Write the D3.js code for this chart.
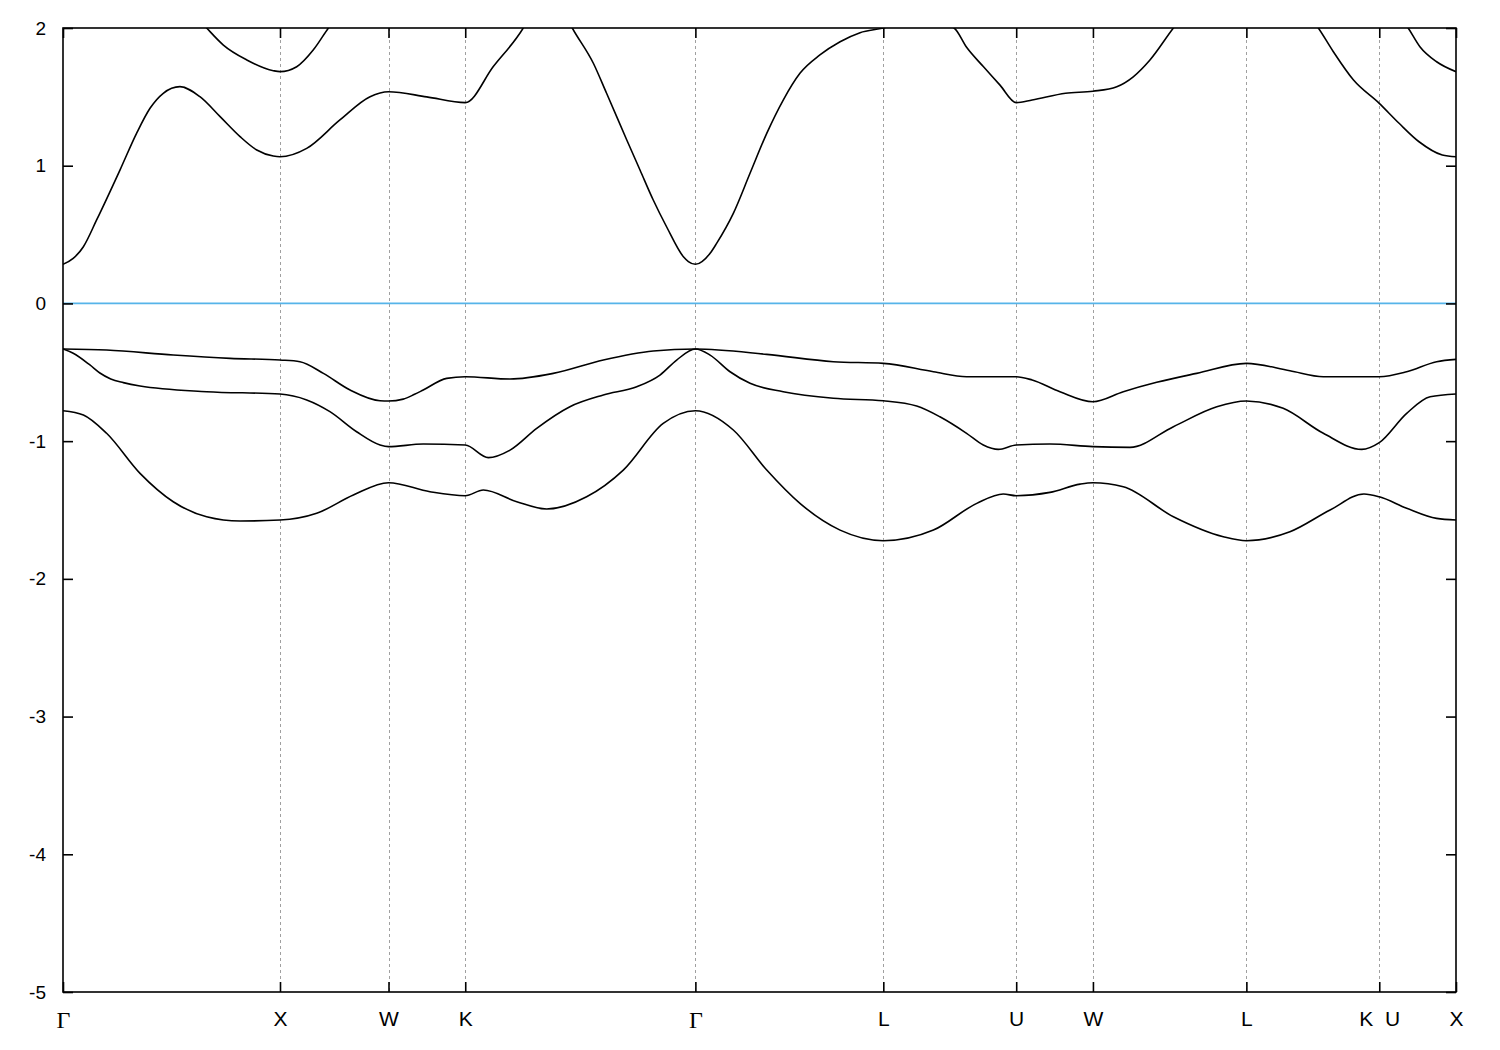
<!DOCTYPE html>
<html>
<head>
<meta charset="utf-8">
<script src="https://cdn.jsdelivr.net/npm/d3@7"></script>
<style>
  html, body { margin: 0; padding: 0; background: #fff; }
  svg { display: block; }
</style>
</head>
<body>
<svg id="chart" width="1500" height="1050"></svg>
<script>
// High-symmetry points along the k-path (cumulative path length)
const kPos = [0, 1, 1.5, 1.8536, 2.9142, 3.7802, 4.3926, 4.7462, 5.4533, 6.0657, 6.4193];
const kLabels = ["Γ", "X", "W", "K", "Γ", "L", "U", "W", "L", "K U", "X"];
const yTicks = [-5, -4, -3, -2, -1, 0, 1, 2];

// Bands: [k, E]
const conduction1 = [
  [0, 0.284], [0.047, 0.327], [0.094, 0.412], [0.155, 0.606], [0.263, 0.970], [0.339, 1.235],
  [0.401, 1.417], [0.462, 1.526], [0.539, 1.574], [0.631, 1.501],
  [0.724, 1.356], [0.816, 1.211], [0.893, 1.114], [0.969, 1.070], [1.0, 1.065], [1.123, 1.126], [1.276, 1.332],
  [1.415, 1.501], [1.5, 1.537], [1.676, 1.500], [1.8536, 1.458], [1.983, 1.72],
  [2.121, 2.0], [2.236, 2.35], [2.347, 2.0], [2.444, 1.744], [2.505, 1.526],
  [2.598, 1.187], [2.659, 0.969], [2.720, 0.751], [2.782, 0.555], [2.859, 0.339],
  [2.882, 0.304], [2.9142, 0.284], [2.982, 0.364], [3.012, 0.436], [3.089, 0.654], [3.166, 0.945], [3.243, 1.235],
  [3.319, 1.477], [3.396, 1.671], [3.488, 1.804], [3.581, 1.900], [3.673, 1.966],
  [3.7802, 2.0], [3.94, 2.08], [4.106, 2.0], [4.164, 1.860], [4.241, 1.720],
  [4.318, 1.585], [4.3926, 1.458], [4.466, 1.477], [4.620, 1.526], [4.7462, 1.541],
  [4.856, 1.574], [4.932, 1.646], [5.009, 1.768], [5.117, 2.0], [5.25, 2.25],
  [5.4533, 2.35], [5.65, 2.25], [5.785, 2.0], [5.854, 1.828], [5.947, 1.622],
  [6.0657, 1.453], [6.157, 1.308], [6.249, 1.174], [6.356, 1.078], [6.4193, 1.065]
];
const conduction2 = [
  [0.55, 2.2], [0.662, 2.0], [0.739, 1.876], [0.847, 1.768], [0.969, 1.690],
  [1.0, 1.683], [1.077, 1.719], [1.153, 1.840], [1.223, 2.0], [1.32, 2.2],
  [6.10, 2.2], [6.199, 2.0], [6.253, 1.864], [6.330, 1.755], [6.4193, 1.683]
];
const valence1 = [
  [0, -0.331], [0.201, -0.338], [0.508, -0.375], [0.770, -0.399], [1.0, -0.411],
  [1.092, -0.423], [1.200, -0.508], [1.323, -0.629], [1.461, -0.707], [1.5, -0.709],
  [1.568, -0.695], [1.620, -0.660], [1.660, -0.629], [1.768, -0.544], [1.8536, -0.532], [2.060, -0.549],
  [2.259, -0.508], [2.490, -0.411], [2.720, -0.346], [2.9142, -0.331], [3.243, -0.370],
  [3.550, -0.423], [3.7802, -0.435], [4.011, -0.496], [4.164, -0.532], [4.3926, -0.532],
  [4.466, -0.556], [4.594, -0.641], [4.7462, -0.714], [4.886, -0.641], [5.040, -0.573],
  [5.224, -0.508], [5.4533, -0.435], [5.654, -0.489], [5.808, -0.532], [6.0657, -0.532],
  [6.192, -0.496], [6.330, -0.423], [6.4193, -0.406]
];
const valence2 = [
  [0, -0.331], [0.047, -0.362], [0.124, -0.447], [0.170, -0.505], [0.220, -0.548], [0.278, -0.575], [0.355, -0.600],
  [0.662, -0.641], [1.0, -0.658], [1.123, -0.701], [1.230, -0.786], [1.353, -0.932],
  [1.461, -1.028], [1.5, -1.040], [1.660, -1.021], [1.8536, -1.028], [1.960, -1.120],
  [2.060, -1.065], [2.183, -0.907], [2.336, -0.750], [2.490, -0.665], [2.644, -0.605],
  [2.751, -0.520], [2.828, -0.411], [2.9142, -0.331], [2.982, -0.375], [3.074, -0.496],
  [3.166, -0.580], [3.319, -0.641], [3.550, -0.689], [3.7802, -0.707], [3.934, -0.745],
  [4.041, -0.823], [4.164, -0.943], [4.241, -1.028], [4.310, -1.060], [4.3926, -1.028],
  [4.548, -1.021], [4.7462, -1.040], [4.917, -1.045], [5.117, -0.895], [5.317, -0.750],
  [5.4533, -0.709], [5.623, -0.762], [5.808, -0.943], [5.985, -1.060], [6.0657, -1.011],
  [6.192, -0.798], [6.300, -0.678], [6.4193, -0.658]
];
const valence3 = [
  [0, -0.779], [0.094, -0.810], [0.201, -0.943], [0.355, -1.234], [0.508, -1.440],
  [0.662, -1.549], [0.816, -1.580], [1.0, -1.573], [1.169, -1.524], [1.338, -1.391],
  [1.5, -1.302], [1.691, -1.367], [1.8536, -1.396], [1.937, -1.355], [2.091, -1.440],
  [2.229, -1.493], [2.413, -1.404], [2.582, -1.210], [2.766, -0.871], [2.9142, -0.779],
  [3.089, -0.919], [3.243, -1.210], [3.396, -1.452], [3.581, -1.646], [3.7802, -1.723],
  [4.011, -1.646], [4.211, -1.452], [4.333, -1.384], [4.3926, -1.396], [4.548, -1.372],
  [4.687, -1.312], [4.7462, -1.302], [4.886, -1.331], [5.117, -1.549], [5.347, -1.694],
  [5.4533, -1.723], [5.654, -1.658], [5.839, -1.500], [5.995, -1.384], [6.0657, -1.404],
  [6.192, -1.487], [6.330, -1.561], [6.4193, -1.573]
];
const bands = [conduction1, conduction2, valence1, valence2, valence3];
const fermiLevel = 0;

const svg = d3.select("#chart");
const mLeft = 63, mRight = 1456, mTop = 28, mBottom = 992;

const x = d3.scaleLinear().domain([kPos[0], kPos[kPos.length - 1]]).range([mLeft, mRight]);
const y = d3.scaleLinear().domain([-5, 2]).range([mBottom, mTop]);

svg.append("defs").append("clipPath").attr("id", "plotclip")
  .append("rect").attr("x", mLeft).attr("y", mTop)
  .attr("width", mRight - mLeft).attr("height", mBottom - mTop);

// vertical dashed grid lines at interior high-symmetry points
svg.append("g").selectAll("line")
  .data(kPos.slice(1, -1))
  .join("line")
  .attr("x1", d => Math.round(x(d)) + 0.5).attr("x2", d => Math.round(x(d)) + 0.5)
  .attr("y1", mTop).attr("y2", mBottom)
  .attr("stroke", "#a0a0a0").attr("stroke-width", 1)
  .attr("stroke-dasharray", "3,3");

// Fermi level
svg.append("line")
  .attr("x1", mLeft).attr("x2", mRight)
  .attr("y1", y(fermiLevel)).attr("y2", y(fermiLevel))
  .attr("stroke", "#56b4e9").attr("stroke-width", 1.8);

// bands
const line = d3.line().x(d => x(d[0])).y(d => y(d[1])).curve(d3.curveMonotoneX);
svg.append("g").attr("clip-path", "url(#plotclip)")
  .selectAll("path").data(bands).join("path")
  .attr("d", line)
  .attr("fill", "none").attr("stroke", "#000").attr("stroke-width", 1.6)
  .attr("stroke-linejoin", "round");

// axes (ticks inward, mirrored)
const font = "'Liberation Sans', Arial, sans-serif";
const serif = "'Liberation Serif', 'Times New Roman', serif";
const yAxisL = d3.axisLeft(y).tickValues(yTicks).tickSize(-10).tickPadding(17).tickFormat(d => String(d));
const yAxisR = d3.axisRight(y).tickValues(yTicks).tickSize(-10).tickFormat("");
const xAxisB = d3.axisBottom(x).tickValues(kPos).tickSize(-10).tickPadding(19).tickFormat((d, i) => kLabels[i]);
const xAxisT = d3.axisTop(x).tickValues(kPos).tickSize(-10).tickFormat("");

function styleAxis(g, size) {
  g.select(".domain").remove();
  g.selectAll(".tick line").attr("stroke", "#000").attr("stroke-width", 1.6);
  g.selectAll("text").attr("fill", "#000").style("font-family", font).style("font-size", size + "px");
}
svg.append("g").attr("transform", `translate(${mLeft},0)`).call(yAxisL).call(styleAxis, 19);
svg.append("g").attr("transform", `translate(${mRight},0)`).call(yAxisR).call(styleAxis, 19);
const gxb = svg.append("g").attr("transform", `translate(0,${mBottom})`).call(xAxisB).call(styleAxis, 21);
svg.append("g").attr("transform", `translate(0,${mTop})`).call(xAxisT).call(styleAxis, 21);
gxb.selectAll("text")
  .style("font-family", d => kLabels[kPos.indexOf(d)] === "Γ" ? serif : font)
  .style("font-size", d => kLabels[kPos.indexOf(d)] === "Γ" ? "24px" : "21px")
  .style("word-spacing", "6px");

// frame
svg.append("rect").attr("x", mLeft).attr("y", mTop)
  .attr("width", mRight - mLeft).attr("height", mBottom - mTop)
  .attr("fill", "none").attr("stroke", "#000").attr("stroke-width", 1.6);
</script>
</body>
</html>
